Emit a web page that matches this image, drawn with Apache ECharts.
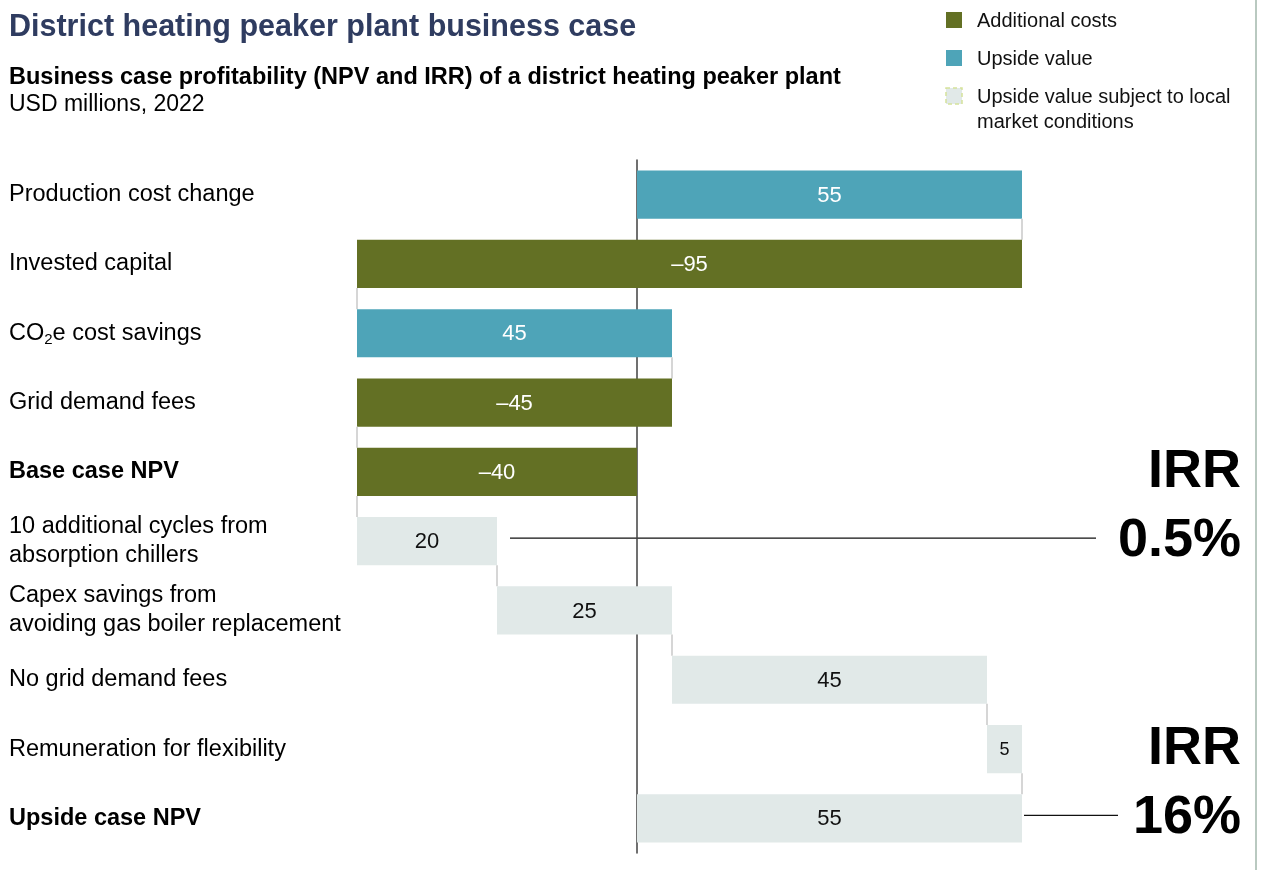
<!DOCTYPE html>
<html>
<head>
<meta charset="utf-8">
<script src="https://cdn.jsdelivr.net/npm/echarts@6/dist/echarts.min.js"></script>
<style>
html, body { margin: 0; padding: 0; background: #ffffff; }
#chart { width: 1262px; height: 870px; }
</style>
</head>
<body>
<div id="chart"></div>
<script>
// Waterfall steps, top to bottom
const categories = [
  'Production cost change',
  'Invested capital',
  'CO2e cost savings',
  'Grid demand fees',
  'Base case NPV',
  '10 additional cycles from\nabsorption chillers',
  'Capex savings from\navoiding gas boiler replacement',
  'No grid demand fees',
  'Remuneration for flexibility',
  'Upside case NPV'
];
const values = [55, -95, 45, -45, -40, 20, 25, 45, 5, 55];
const kinds = ['upside', 'cost', 'upside', 'cost', 'cost', 'local', 'local', 'local', 'local', 'local'];
const isTotal = [false, false, false, false, true, false, false, false, false, true];

// IRR callouts: row of the value, text
const irrRows = [5, 9];
const irrValues = ['0.5%', '16%'];

const legendItems = [
  { kind: 'cost', text: 'Additional costs' },
  { kind: 'upside', text: 'Upside value' },
  { kind: 'local', text: 'Upside value subject to local\nmarket conditions' }
];

const COLORS = { cost: '#637024', upside: '#4ea4b8', local: '#e1e9e8' };
const TEXT_COLORS = { cost: '#ffffff', upside: '#ffffff', local: '#111111' };
const FONT = "'Liberation Sans', Arial, Helvetica, sans-serif";

// Build floating segments [row, start, end, runningAfter]
const segments = [];
let running = 0;
values.forEach((v, i) => {
  let start, end;
  if (isTotal[i]) { start = 0; end = v; running = v; }
  else { start = running; end = running + v; running = end; }
  segments.push([i, start, end, running]);
});

function fmt(v) { return v < 0 ? '\u2013' + Math.abs(v) : String(v); }

function renderItem(params, api) {
  const i = api.value(0);
  const s = api.value(1), e = api.value(2), after = api.value(3);
  const p0 = api.coord([s, i]);
  const p1 = api.coord([e, i]);
  const band = api.size([0, 1])[1];
  const h = band * 0.695;
  const x = Math.min(p0[0], p1[0]);
  const w = Math.abs(p1[0] - p0[0]);
  const y = p0[1] - h / 2;
  const kind = kinds[i];
  const children = [{
    type: 'rect',
    shape: { x: x, y: y, width: w, height: h },
    style: { fill: COLORS[kind] }
  }, {
    type: 'text',
    style: {
      text: fmt(values[i]),
      x: x + w / 2, y: p0[1] + 1,
      align: 'center', verticalAlign: 'middle',
      fill: TEXT_COLORS[kind],
      font: (w < 40 ? 18 : 22) + 'px ' + FONT
    },
    z2: 10
  }];
  if (i < values.length - 1) {
    const cx = api.coord([after, i])[0];
    children.push({
      type: 'line',
      shape: { x1: cx, y1: y + h, x2: cx, y2: y + band },
      style: { stroke: '#d6d6d6', lineWidth: 2 }
    });
  }
  return { type: 'group', children: children };
}

function catLabel(v) {
  if (v.indexOf('CO2e') === 0) return '{n|CO}{sub|2}{n|' + v.slice(3) + '}';
  const idx = categories.indexOf(v);
  if (isTotal[idx]) return '{b|' + v + '}';
  return v;
}

const chart = echarts.init(document.getElementById('chart'), null, { renderer: 'canvas' });

const graphics = [
  { type: 'text', x: 9, y: 28, style: { text: 'District heating peaker plant business case', font: 'bold 30.5px ' + FONT, fill: '#2f3c60', verticalAlign: 'middle' } },
  { type: 'text', x: 9, y: 78, style: { text: 'Business case profitability (NPV and IRR) of a district heating peaker plant', font: 'bold 23.5px ' + FONT, fill: '#000', verticalAlign: 'middle' } },
  { type: 'text', x: 9, y: 105, style: { text: 'USD millions, 2022', font: '23px ' + FONT, fill: '#000', verticalAlign: 'middle' } },
  { type: 'line', shape: { x1: 1256, y1: 0, x2: 1256, y2: 870 }, style: { stroke: '#b9c9c0', lineWidth: 2 } }
];

legendItems.forEach((it, k) => {
  const cy = 20 + k * 38;
  graphics.push({
    type: 'rect', shape: { x: 946, y: cy - 8, width: 16, height: 16 },
    style: it.kind === 'local'
      ? { fill: COLORS.local, stroke: '#d5e29a', lineWidth: 1.5, lineDash: [4, 3] }
      : { fill: COLORS[it.kind] }
  });
  graphics.push({
    type: 'text', x: 977, y: cy - 11,
    style: { text: it.text, font: '20px ' + FONT, fill: '#111', lineHeight: 25, verticalAlign: 'top' }
  });
});

chart.setOption({
  animation: false,
  backgroundColor: '#ffffff',
  grid: { left: 357, width: 665, top: 160, height: 693, containLabel: false },
  xAxis: {
    type: 'value', min: -40, max: 55, show: false
  },
  yAxis: [{
    type: 'category', inverse: true, data: categories,
    axisLine: { show: true, onZero: true, lineStyle: { color: '#404040', width: 1.5 } },
    axisTick: { show: false }, axisLabel: { show: false }, splitLine: { show: false }
  }, {
    type: 'category', inverse: true, data: categories, position: 'left',
    axisLine: { show: false, onZero: false }, axisTick: { show: false }, splitLine: { show: false },
    axisLabel: {
      align: 'left', margin: 348, color: '#000', fontFamily: FONT, fontSize: 23.5, lineHeight: 29,
      formatter: catLabel,
      rich: {
        n: { fontSize: 23.5, fontFamily: FONT, color: '#000', lineHeight: 29 },
        sub: { fontSize: 15, fontFamily: FONT, color: '#000', lineHeight: 29, verticalAlign: 'bottom' },
        b: { fontSize: 23.5, fontFamily: FONT, color: '#000', fontWeight: 'bold' }
      }
    }
  }],
  series: [{
    type: 'custom',
    renderItem: renderItem,
    encode: { x: [1, 2], y: 0 },
    data: segments,
    z: 3
  }],
  graphic: graphics
});

// IRR callouts, placed on their rows
const calloutLines = [[510, 1096], [1024, 1118]];
const extra = [];
irrRows.forEach((row, k) => {
  const yVal = chart.convertToPixel({ yAxisIndex: 0 }, row);
  const yIrr = chart.convertToPixel({ yAxisIndex: 0 }, row - 1);
  extra.push({ type: 'text', x: 1241, y: yIrr, style: { text: 'IRR', font: 'bold 54px ' + FONT, fill: '#000', align: 'right', verticalAlign: 'middle' } });
  extra.push({ type: 'text', x: 1241, y: yVal, style: { text: irrValues[k], font: 'bold 54px ' + FONT, fill: '#000', align: 'right', verticalAlign: 'middle' } });
  extra.push({ type: 'line', shape: { x1: calloutLines[k][0], y1: yVal - 3, x2: calloutLines[k][1], y2: yVal - 3 }, style: { stroke: '#111', lineWidth: 1.2 } });
});
chart.setOption({ graphic: graphics.concat(extra) });
</script>
</body>
</html>
